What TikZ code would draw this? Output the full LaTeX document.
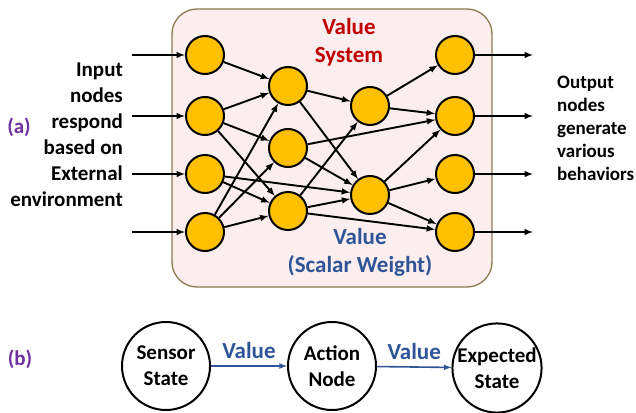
\documentclass[tikz,border=0pt]{standalone}
\usepackage{fontspec}
\setmainfont{Carlito}
\usepackage{tikz}

\definecolor{cellgold}{HTML}{FFC000}
\definecolor{boxpink}{HTML}{FCEEEE}
\definecolor{boxrim}{HTML}{8C7A4C}
\definecolor{valred}{HTML}{C00000}
\definecolor{valblue}{HTML}{2F5597}
\definecolor{tagpurple}{HTML}{7030A0}

\begin{document}
\begin{tikzpicture}[x=1pt, y=-1pt, font=\bfseries,
  neuron/.style={circle, draw=black, line width=2pt, fill=cellgold, minimum size=38pt, inner sep=0pt},
  link/.style={-latex, line width=1.9pt},
  state/.style={circle, draw=black, line width=2pt, minimum size=88pt, inner sep=0pt, align=center,
    font=\bfseries\fontsize{21}{26}\selectfont},
  flow/.style={-latex, line width=1.6pt, valblue}]
  \useasboundingbox (0,0) rectangle (636,412);

  % (a) the network inside its value box
  \draw[rounded corners=25pt, fill=boxpink, draw=boxrim, line width=1.3pt] (172,9) rectangle (492,287);
  \node[valred, align=center, font=\bfseries\fontsize{23}{28}\selectfont] (sysname) at (349,42) {Value\\System};
  \node[valblue, align=center, font=\bfseries\fontsize{23}{28}\selectfont] (weightname) at (360,252) {Value\\(Scalar Weight)};

  \foreach \i/\y in {1/55, 2/116, 3/174, 4/232}
    { \node[neuron] (a\i) at (205,\y) {}; \node[neuron] (d\i) at (455,\y) {};
      \coordinate (in\i) at (132,\y); \coordinate (out\i) at (533,\y); }
  \foreach \i/\y in {1/86, 2/148, 3/211}
    \node[neuron] (b\i) at (288,\y) {};
  \foreach \i/\y in {1/106, 2/195}
    \node[neuron] (c\i) at (370,\y) {};

  \foreach \i in {1,...,4}
    { \draw[link] (in\i) -- (a\i); \draw[link] (d\i) -- (out\i); }
  \foreach \s/\t in {a1/b1, a2/b1, a2/b2, a2/b3, a3/b3, a3/c2, a4/b1, a4/b2, a4/b3,
                     b1/c1, b1/c2, b2/c2, b2/d2, b3/c1, b3/c2, b3/d4,
                     c1/d1, c1/d2, c2/d2, c2/d3, c2/d4}
    \draw[link] (\s) -- (\t);

  \node[tagpurple, font=\bfseries\fontsize{21}{26}\selectfont] (taga) at (19,127) {(a)};
  \node[anchor=east, align=right, inner sep=0pt, font=\bfseries\fontsize{21}{26}\selectfont] (inputs) at (123,135)
    {Input\\nodes\\respond\\based on\\External\\environment};
  \node[anchor=west, align=left, inner sep=0pt, font=\bfseries\fontsize{19}{23}\selectfont] (outputs) at (557,128)
    {Output\\nodes\\generate\\various\\behaviors};

  % (b) the value chain
  \node[tagpurple, font=\bfseries\fontsize{21}{26}\selectfont] (tagb) at (20,359) {(b)};
  \node[state] (sensor) at (166,366) {Sensor\\State};
  \node[state] (action) at (332,366) {Action\\Node};
  \node[state] (expected) at (497,368) {Expected\\State};
  \draw[flow] (sensor) -- (action) node[midway, above=3pt, font=\bfseries\fontsize{23}{28}\selectfont] {Value};
  \draw[flow] (action) -- (expected) node[midway, above=3pt, font=\bfseries\fontsize{23}{28}\selectfont] {Value};
\end{tikzpicture}
\end{document}
